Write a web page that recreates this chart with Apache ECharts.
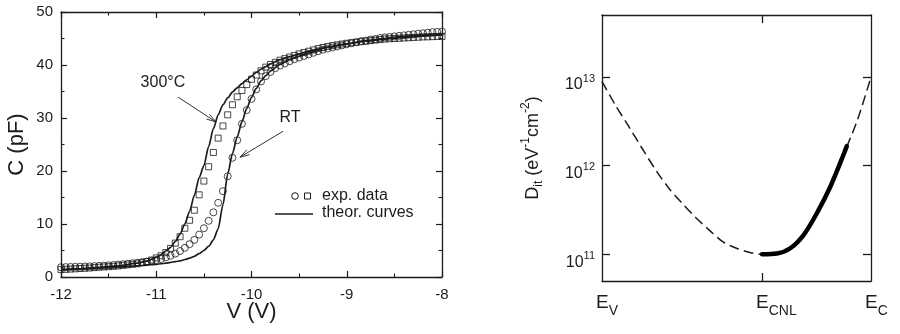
<!DOCTYPE html>
<html>
<head>
<meta charset="utf-8">
<script src="https://cdn.jsdelivr.net/npm/echarts@6/dist/echarts.min.js"></script>
<style>
  html, body { margin: 0; padding: 0; background: #fff; }
  #chart { width: 900px; height: 334px; }
</style>
</head>
<body>
<div id="chart"></div>
<script>
// ---- C-V panel: gate voltage (V) and capacitance (pF) ----
const voltage = [
  -12.00, -11.95, -11.90, -11.85, -11.80, -11.75, -11.70, -11.65, -11.60, -11.55,
  -11.50, -11.45, -11.40, -11.35, -11.30, -11.25, -11.20, -11.15, -11.10, -11.05,
  -11.00, -10.95, -10.90, -10.85, -10.80, -10.75, -10.70, -10.65, -10.60, -10.55,
  -10.50, -10.45, -10.40, -10.35, -10.30, -10.25, -10.20, -10.15, -10.10, -10.05,
  -10.00, -9.95, -9.90, -9.85, -9.80, -9.75, -9.70, -9.65, -9.60, -9.55,
  -9.50, -9.45, -9.40, -9.35, -9.30, -9.25, -9.20, -9.15, -9.10, -9.05,
  -9.00, -8.95, -8.90, -8.85, -8.80, -8.75, -8.70, -8.65, -8.60, -8.55,
  -8.50, -8.45, -8.40, -8.35, -8.30, -8.25, -8.20, -8.15, -8.10, -8.05, -8.00
];
// measured, room temperature (circles)
const capRT = [
  1.85, 1.87, 1.90, 1.92, 1.95, 1.98, 2.00, 2.05, 2.10, 2.15,
  2.20, 2.27, 2.35, 2.42, 2.50, 2.60, 2.70, 2.80, 2.90, 3.05,
  3.20, 3.40, 3.70, 4.00, 4.40, 4.90, 5.50, 6.20, 7.00, 8.00,
  9.20, 10.6, 12.2, 14.0, 16.2, 19.0, 22.5, 25.8, 28.9, 31.5,
  33.6, 35.4, 36.9, 37.9, 38.7, 39.4, 39.9, 40.3, 40.7, 41.1,
  41.4, 41.7, 42.0, 42.3, 42.6, 42.9, 43.1, 43.3, 43.5, 43.7,
  43.9, 44.1, 44.3, 44.5, 44.6, 44.8, 44.9, 45.1, 45.2, 45.3,
  45.4, 45.5, 45.6, 45.7, 45.8, 45.9, 46.0, 46.1, 46.2, 46.25, 46.3
];
// measured after 300 °C anneal (squares)
const cap300 = [
  1.40, 1.45, 1.50, 1.55, 1.60, 1.65, 1.70, 1.78, 1.85, 1.90,
  1.95, 2.02, 2.10, 2.20, 2.30, 2.40, 2.50, 2.70, 2.90, 3.20,
  3.60, 4.00, 4.60, 5.40, 6.40, 7.60, 9.20, 10.7, 12.6, 15.5,
  18.1, 20.8, 23.5, 26.2, 28.5, 30.6, 32.5, 34.0, 35.2, 36.3,
  37.3, 38.1, 38.9, 39.6, 40.1, 40.5, 40.9, 41.2, 41.5, 41.8,
  42.1, 42.35, 42.6, 42.85, 43.1, 43.3, 43.5, 43.65, 43.8, 43.95,
  44.1, 44.2, 44.3, 44.4, 44.5, 44.6, 44.7, 44.8, 44.9, 44.95,
  45.0, 45.05, 45.1, 45.15, 45.2, 45.25, 45.3, 45.32, 45.35, 45.38, 45.4
];
// theoretical C-V curves
const theoryVoltage = [
  -12.0, -11.8, -11.6, -11.4, -11.2, -11.1, -11.0, -10.95, -10.9, -10.85,
  -10.8, -10.75, -10.7, -10.65, -10.6, -10.55, -10.5, -10.45, -10.4, -10.35,
  -10.3, -10.25, -10.2, -10.15, -10.1, -10.05, -10.0, -9.95, -9.9, -9.85,
  -9.8, -9.7, -9.6, -9.5, -9.4, -9.2, -9.0, -8.8, -8.6, -8.4, -8.2, -8.0
];
const theoryRT = [
  1.4, 1.55, 1.7, 1.9, 2.1, 2.25, 2.4, 2.5, 2.6, 2.75,
  2.9, 3.05, 3.3, 3.55, 3.9, 4.4, 5.0, 5.8, 7.0, 9.1,
  13.6, 19.4, 23.3, 26.4, 29.3, 31.8, 33.9, 35.6, 37.0, 38.0,
  38.9, 40.1, 41.0, 41.7, 42.3, 43.3, 44.0, 44.6, 45.0, 45.4, 45.7, 45.9
];
const theory300 = [
  1.35, 1.55, 1.8, 2.1, 2.6, 3.0, 3.7, 4.2, 4.9, 5.6,
  6.7, 8.1, 10.0, 12.4, 15.4, 18.7, 21.0, 24.6, 28.0, 30.6,
  32.5, 33.8, 34.9, 35.7, 36.5, 37.2, 37.9, 38.6, 39.2, 39.7,
  40.2, 41.0, 41.6, 42.1, 42.6, 43.4, 44.0, 44.5, 44.9, 45.2, 45.5, 45.7
];

// ---- Interface-state panel: position in the gap (E_V = 0, E_C = 1) ----
const energyPos = [
  0, 0.05, 0.10, 0.15, 0.20, 0.25, 0.30, 0.35, 0.40, 0.45, 0.50,
  0.55, 0.595, 0.65, 0.70, 0.75, 0.80, 0.85, 0.90, 0.95, 1.0
];
const ditModel = [
  8.9e12, 4.8e12, 2.75e12, 1.55e12, 8.9e11, 5.5e11, 3.7e11, 2.57e11, 1.86e11, 1.38e11, 1.17e11,
  1.05e11, 1.0e11, 1.02e11, 1.17e11, 1.66e11, 2.95e11, 5.9e11, 1.38e12, 3.3e12, 1.0e13
];
const measuredPos = [0.595, 0.65, 0.70, 0.75, 0.80, 0.85, 0.90, 0.91];
const ditMeasured = [1.0e11, 1.02e11, 1.17e11, 1.66e11, 2.95e11, 5.9e11, 1.38e12, 1.66e12];
const energyTickPos = [0, 0.595, 1];
const energyTickNames = ['V', 'CNL', 'C'];
const ditTicks = [1e11, 1e12, 1e13];

const FONT = 'Liberation Sans, Arial, Helvetica, sans-serif';
const INK = '#1c1c1c';

const zip = (xs, ys) => xs.map((x, i) => [x, ys[i]]);

const chart = echarts.init(document.getElementById('chart'), null, { renderer: 'canvas' });

const frameLine = { show: true, onZero: false, lineStyle: { color: INK, width: 1.3 } };
const cvTick = { show: true, inside: true, length: 6, lineStyle: { color: INK, width: 1.2 } };
const cvMinor = { show: true, splitNumber: 2, length: 3.5, lineStyle: { color: INK, width: 1.1 } };
const ditTick = { show: true, inside: true, length: 8, lineStyle: { color: INK, width: 1.3 } };

// rich-text pieces: every token in a line shares the same box height,
// so the top padding alone sets where each piece sits (sub/superscripts)
const tok = (size, lh, top, bottom) => ({
  fontSize: size, lineHeight: lh, padding: [top, 0, bottom, 0], color: INK, fontFamily: FONT
});

chart.setOption({
  backgroundColor: '#fff',
  animation: false,
  textStyle: { fontFamily: FONT, color: INK },
  grid: [
    { left: 61, right: 458, top: 12, bottom: 57 },
    { left: 602, right: 29, top: 15, bottom: 53 }
  ],
  xAxis: [
    {
      gridIndex: 0, type: 'value', position: 'bottom', min: -12, max: -8, interval: 1,
      axisLine: frameLine, axisTick: cvTick, minorTick: cvMinor,
      splitLine: { show: false },
      axisLabel: { fontSize: 15, color: INK, margin: 10, fontFamily: FONT },
      name: 'V (V)', nameLocation: 'middle', nameGap: 24, nameMoveOverlap: false,
      nameTextStyle: { fontSize: 22, color: INK, fontFamily: FONT }
    },
    {
      gridIndex: 0, type: 'value', position: 'top', min: -12, max: -8, interval: 1,
      axisLine: frameLine, axisTick: cvTick, minorTick: cvMinor,
      splitLine: { show: false }, axisLabel: { show: false }
    },
    {
      gridIndex: 1, type: 'value', position: 'bottom', min: 0, max: 1,
      axisLine: frameLine,
      axisTick: Object.assign({ customValues: [0.595] }, ditTick),
      splitLine: { show: false },
      axisLabel: {
        customValues: energyTickPos, margin: 15, align: 'left', padding: [0, 0, 0, -6],
        formatter: (v) => {
          const i = energyTickPos.findIndex((p) => Math.abs(p - v) < 1e-6);
          return '{e|E}{s|' + (i >= 0 ? energyTickNames[i] : '') + '}';
        },
        rich: {
          e: tok(19, 19, 0, 6),
          s: tok(14, 14, 11, 0)
        }
      }
    },
    {
      gridIndex: 1, type: 'value', position: 'top', min: 0, max: 1,
      axisLine: frameLine,
      axisTick: Object.assign({ customValues: [0.595] }, ditTick),
      splitLine: { show: false }, axisLabel: { show: false }
    }
  ],
  yAxis: [
    {
      gridIndex: 0, type: 'value', position: 'left', min: 0, max: 50, interval: 10,
      axisLine: frameLine, axisTick: cvTick, minorTick: cvMinor,
      splitLine: { show: false },
      axisLabel: { fontSize: 15, color: INK, margin: 8, fontFamily: FONT },
      name: 'C (pF)', nameLocation: 'middle', nameGap: 33, nameRotate: 90,
      nameTextStyle: { fontSize: 22, color: INK, fontFamily: FONT }
    },
    {
      gridIndex: 0, type: 'value', position: 'right', min: 0, max: 50, interval: 10,
      axisLine: frameLine, axisTick: cvTick, minorTick: cvMinor,
      splitLine: { show: false }, axisLabel: { show: false }
    },
    {
      gridIndex: 1, type: 'log', logBase: 10, position: 'left', min: 5e10, max: 5e13,
      axisLine: frameLine,
      axisTick: Object.assign({ customValues: ditTicks }, ditTick),
      minorTick: { show: false },
      splitLine: { show: false },
      axisLabel: {
        customValues: ditTicks, margin: 7, padding: [12, 0, 0, 0],
        formatter: (v) => '{b|10}{s|' + Math.round(Math.log10(v)) + '}',
        rich: {
          b: tok(16, 16, 5, 1),
          s: tok(11, 11, 1, 10)
        }
      },
      name: '{n|D}{sub|it}{n| (eV}{sup|-1}{n|cm}{sup|-2}{n|)}',
      nameLocation: 'middle', nameGap: 60, nameRotate: 90, nameMoveOverlap: false,
      nameTextStyle: {
        rich: {
          n: tok(18, 18, 6, 6),
          sub: tok(12, 12, 15, 3),
          sup: tok(12, 12, 2, 16)
        }
      }
    },
    {
      gridIndex: 1, type: 'log', logBase: 10, position: 'right', min: 5e10, max: 5e13,
      axisLine: frameLine,
      axisTick: Object.assign({ customValues: ditTicks }, ditTick),
      minorTick: { show: false },
      splitLine: { show: false }, axisLabel: { show: false }
    }
  ],
  series: [
    {
      name: 'theory RT', type: 'line', xAxisIndex: 0, yAxisIndex: 0,
      data: zip(theoryVoltage, theoryRT), symbol: 'none', smooth: 0.25, smoothMonotone: 'x',
      lineStyle: { color: INK, width: 1.7 }, z: 2
    },
    {
      name: 'theory 300', type: 'line', xAxisIndex: 0, yAxisIndex: 0,
      data: zip(theoryVoltage, theory300), symbol: 'none', smooth: 0.25, smoothMonotone: 'x',
      lineStyle: { color: INK, width: 1.7 }, z: 2
    },
    {
      name: 'RT', type: 'scatter', xAxisIndex: 0, yAxisIndex: 0,
      data: zip(voltage, capRT), symbol: 'circle', symbolSize: 7,
      itemStyle: { color: 'rgba(0,0,0,0)', borderColor: INK, borderWidth: 1 }, z: 3
    },
    {
      name: '300C', type: 'scatter', xAxisIndex: 0, yAxisIndex: 0,
      data: zip(voltage, cap300), symbol: 'rect', symbolSize: 6,
      itemStyle: { color: 'rgba(0,0,0,0)', borderColor: INK, borderWidth: 1 }, z: 3
    },
    {
      name: 'Dit model', type: 'line', xAxisIndex: 2, yAxisIndex: 2,
      data: zip(energyPos, ditModel), symbol: 'none', smooth: 0.3,
      lineStyle: { color: INK, width: 1.5, type: [10, 5] }, z: 2
    },
    {
      name: 'Dit measured', type: 'line', xAxisIndex: 2, yAxisIndex: 2,
      data: zip(measuredPos, ditMeasured), symbol: 'none', smooth: 0.3,
      lineStyle: { color: '#000', width: 4.5, cap: 'round' }, z: 3
    }
  ]
});

// ---- annotations and legend for the C-V panel ----
const toPx = (v, c) => chart.convertToPixel({ gridIndex: 0 }, [v, c]);

function arrow(from, to) {
  const a = toPx(from[0], from[1]);
  const b = toPx(to[0], to[1]);
  const ang = Math.atan2(b[1] - a[1], b[0] - a[0]);
  const len = 10, spread = 0.28;
  const h1 = [b[0] - len * Math.cos(ang - spread), b[1] - len * Math.sin(ang - spread)];
  const h2 = [b[0] - len * Math.cos(ang + spread), b[1] - len * Math.sin(ang + spread)];
  const st = { stroke: '#333', lineWidth: 1, fill: null };
  return [
    { type: 'polyline', shape: { points: [a, b] }, style: st, silent: true },
    { type: 'polyline', shape: { points: [h1, b, h2] }, style: st, silent: true }
  ];
}

const lbl300 = toPx(-10.93, 36.6);
const lblRT = toPx(-9.596, 30.0);

const graphics = [].concat(
  arrow([-10.772, 33.96], [-10.373, 29.25]),
  arrow([-9.669, 27.5], [-10.121, 22.6]),
  [
    { type: 'text', x: lbl300[0], y: lbl300[1], silent: true,
      style: { text: '300°C', font: '16px ' + FONT, fill: INK, align: 'center', verticalAlign: 'middle' } },
    { type: 'text', x: lblRT[0], y: lblRT[1], silent: true,
      style: { text: 'RT', font: '16px ' + FONT, fill: INK, align: 'center', verticalAlign: 'middle' } },
    // legend
    { type: 'circle', shape: { cx: 295, cy: 196, r: 3.3 }, silent: true,
      style: { fill: null, stroke: INK, lineWidth: 1 } },
    { type: 'rect', shape: { x: 304.5, y: 193, width: 6, height: 6 }, silent: true,
      style: { fill: null, stroke: INK, lineWidth: 1 } },
    { type: 'text', x: 322, y: 196, silent: true,
      style: { text: 'exp. data', font: '16px ' + FONT, fill: INK, verticalAlign: 'middle' } },
    { type: 'line', shape: { x1: 275, y1: 214, x2: 313, y2: 214 }, silent: true,
      style: { stroke: INK, lineWidth: 1.6 } },
    { type: 'text', x: 322, y: 213, silent: true,
      style: { text: 'theor. curves', font: '16px ' + FONT, fill: INK, verticalAlign: 'middle' } }
  ]
);

chart.setOption({ graphic: graphics });
</script>
</body>
</html>
